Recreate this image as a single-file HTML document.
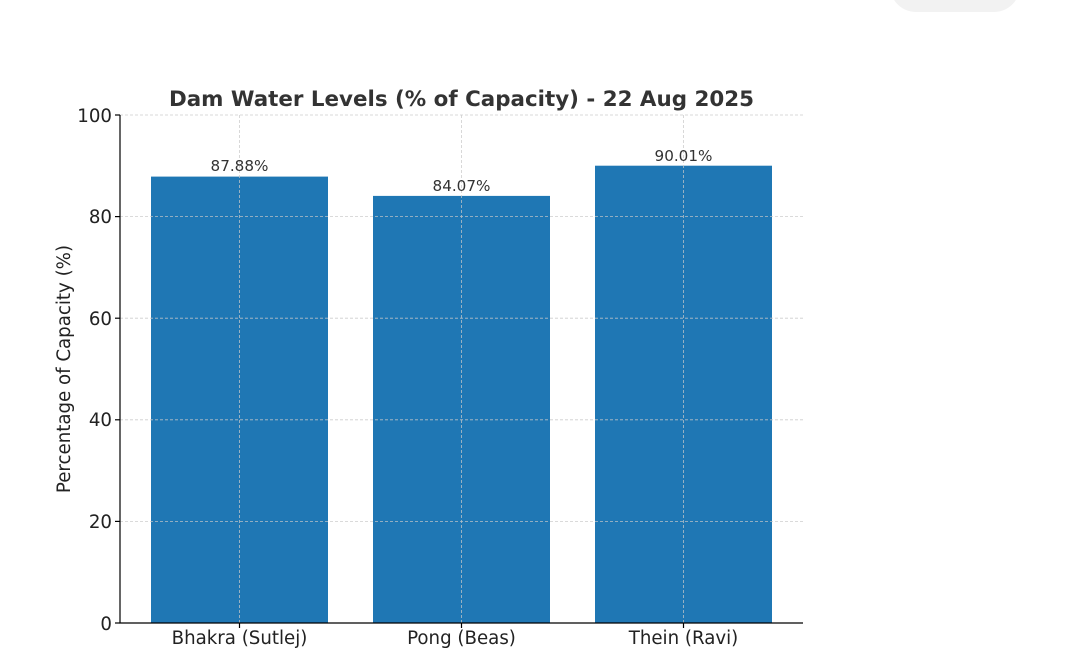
<!DOCTYPE html>
<html><head><style>body{margin:0;background:#fff}svg{display:block}</style></head><body>
<svg width="1074" height="659" xmlns="http://www.w3.org/2000/svg" font-family="DejaVu Sans, Liberation Sans, sans-serif">
<rect x="890" y="-40" width="130" height="52" rx="26" fill="#f2f2f2"/>
<g fill="#1f77b4">
<rect x="151" y="176.6" width="177" height="446.4"/>
<rect x="373" y="195.9" width="177" height="427.1"/>
<rect x="595" y="165.7" width="177" height="457.3"/>
</g>
<g stroke="#c8c8c8" stroke-width="0.8" stroke-dasharray="3,2" opacity="0.9">
<line x1="120" x2="803" y1="115" y2="115"/>
<line x1="120" x2="803" y1="216.6" y2="216.6"/>
<line x1="120" x2="803" y1="318.2" y2="318.2"/>
<line x1="120" x2="803" y1="419.8" y2="419.8"/>
<line x1="120" x2="803" y1="521.4" y2="521.4"/>
<line x1="239.5" x2="239.5" y1="115" y2="623"/>
<line x1="461.5" x2="461.5" y1="115" y2="623"/>
<line x1="683.5" x2="683.5" y1="115" y2="623"/>
</g>
<g stroke="#000" stroke-width="1.2">
<line x1="120" x2="120" y1="115" y2="623.5"/>
<line x1="119.5" x2="803" y1="623" y2="623"/>
<line x1="115" x2="120" y1="115" y2="115"/>
<line x1="115" x2="120" y1="216.6" y2="216.6"/>
<line x1="115" x2="120" y1="318.2" y2="318.2"/>
<line x1="115" x2="120" y1="419.8" y2="419.8"/>
<line x1="115" x2="120" y1="521.4" y2="521.4"/>
<line x1="115" x2="120" y1="623" y2="623"/>
<line x1="239.5" x2="239.5" y1="623" y2="628"/>
<line x1="461.5" x2="461.5" y1="623" y2="628"/>
<line x1="683.5" x2="683.5" y1="623" y2="628"/>
</g>
<g font-size="18.2" fill="#222" text-anchor="end">
<text x="112" y="122">100</text>
<text x="112" y="223">80</text>
<text x="112" y="325">60</text>
<text x="112" y="426">40</text>
<text x="112" y="528">20</text>
<text x="112" y="630">0</text>
</g>
<g font-size="18.2" fill="#222" text-anchor="middle">
<text x="239.5" y="644">Bhakra (Sutlej)</text>
<text x="461.5" y="644">Pong (Beas)</text>
<text x="683.5" y="644">Thein (Ravi)</text>
</g>
<g font-size="15.2" fill="#333" text-anchor="middle">
<text x="239.5" y="171">87.88%</text>
<text x="461.5" y="191">84.07%</text>
<text x="683.5" y="161">90.01%</text>
</g>
<text x="461.5" y="106" font-size="21.4" font-weight="bold" fill="#333" text-anchor="middle">Dam Water Levels (% of Capacity) - 22 Aug 2025</text>
<text transform="translate(70,369) rotate(-90)" font-size="18.2" fill="#222" text-anchor="middle">Percentage of Capacity (%)</text>
</svg>
</body></html>
